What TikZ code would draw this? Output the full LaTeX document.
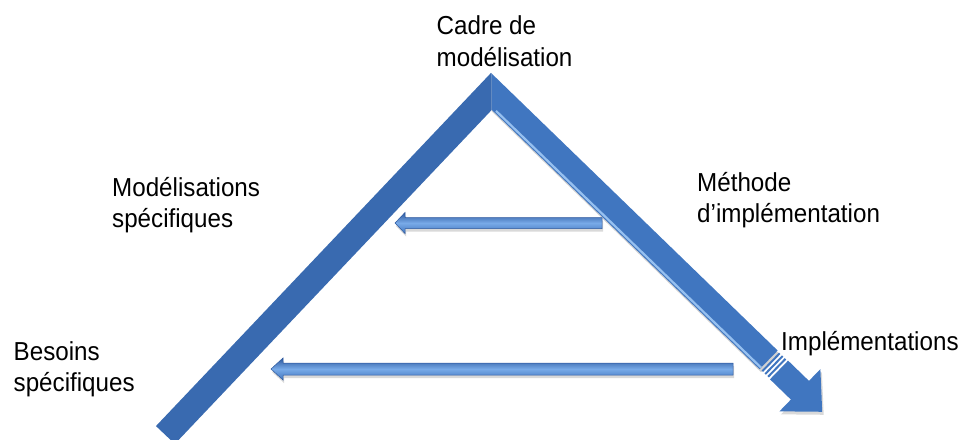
\documentclass[tikz,border=0pt]{standalone}
\usepackage{fontspec}
\newfontfamily\lab{Liberation Sans}[FakeStretch=0.93]
\usetikzlibrary{calc}
\definecolor{legL}{RGB}{57,106,176}
\definecolor{legR}{RGB}{64,118,192}
\definecolor{legHi}{RGB}{150,192,240}
\definecolor{arrDark}{RGB}{44,88,158}
\definecolor{arrLight}{RGB}{120,170,232}
\definecolor{arrMid}{RGB}{66,118,190}
\tikzset{
  lbl/.style={anchor=base west, inner sep=0pt, font=\lab\fontsize{26}{31.7}\selectfont, align=left},
  legleft/.style={draw=legL, line width=26pt, line cap=butt},
  legright/.style={draw=legR, line width=26pt, line cap=butt},
  stripe/.style={draw=legR, line width=25pt, line cap=butt},
  shadowline/.style={draw=black, opacity=0.18, line width=26pt, line cap=butt},
  flatarrow/.style={top color=arrDark, bottom color=arrMid, middle color=arrLight, draw=arrDark, line width=0.5pt},
  arrshadow/.style={fill=black, opacity=0.15}
}
\begin{document}
\begin{tikzpicture}[x=1pt,y=-1pt]
\useasboundingbox (0,0) rectangle (963,439);

% ---- key points of the chevron
\coordinate (LA) at (500.4,81.9);   % left leg centre (beyond apex)
\coordinate (LB) at (165.4,435);    % left leg lower end centre
\coordinate (R0) at (482,82.3);     % right leg centre (beyond apex)
\coordinate (R1) at ($(R0)+399*(0.7183,0.6957)$);     % cut of the shaft
\coordinate (S1a) at ($(R0)+401.4*(0.7183,0.6957)$);
\coordinate (S1b) at ($(R0)+403.4*(0.7183,0.6957)$);
\coordinate (S2a) at ($(R0)+405.4*(0.7183,0.6957)$);
\coordinate (S2b) at ($(R0)+407.4*(0.7183,0.6957)$);
\coordinate (S3a) at ($(R0)+409.4*(0.7183,0.6957)$);
\coordinate (S3b) at ($(R0)+411.4*(0.7183,0.6957)$);
\coordinate (R2) at ($(R0)+413.5*(0.7183,0.6957)$);   % shaft resumes
\coordinate (H)  at ($(R0)+442.6*(0.7183,0.6957)$);   % head base centre
\coordinate (HE) at ($(R0)+444*(0.7183,0.6957)$);
\coordinate (RT) at ($(R0)+473.6*(0.7183,0.6957)$);   % tip
\coordinate (HA) at ($(H)+29.4*(-0.6957,0.7183)$);
\coordinate (HB) at ($(H)-29.4*(-0.6957,0.7183)$);
\coordinate (HiA) at ($(R0)+30*(0.7183,0.6957)+10.8*(-0.6957,0.7183)$);
\coordinate (HiB) at ($(R1)+10.8*(-0.6957,0.7183)$);

% ---- right leg (with shadow)
\begin{scope}
  \clip (491.5,0) rectangle (963,439);
  \draw[shadowline] ($(R0)+(1.5,3)$) -- ($(R1)+(1.5,3)$);
  \fill[arrshadow] ($(HA)+(1.5,3)$) -- ($(RT)+(1.5,3)$) -- ($(HB)+(1.5,3)$) -- cycle;
  \draw[legright] (R0) -- (R1);
  \draw[stripe] (S1a) -- (S1b);
  \draw[stripe] (S2a) -- (S2b);
  \draw[stripe] (S3a) -- (S3b);
  \draw[legright] (R2) -- (HE);
  \fill[legR] (HA) -- (RT) -- (HB) -- cycle;
  \draw[legHi, line width=2.2pt] (HiA) -- (HiB);
\end{scope}

% ---- left leg
\begin{scope}
  \clip (0,0) rectangle (491.5,439);
  \draw[legleft] (LA) -- (LB);
\end{scope}

% ---- horizontal arrows
\coordinate (UT) at (395,223);
\coordinate (UE) at (602,223);
\fill[arrshadow] ($(UT)+(1,3)$) -- (406,215.5) -- (406,220.5) -- (603,220.5) -- (603,231.5) -- (406,231.5) -- (406,236.5) -- cycle;
\shade[flatarrow] (UT) -- (405,212.5) -- (405,217.5) -- (UE |- 0,217.5) -- (UE |- 0,228.5) -- (405,228.5) -- (405,233.5) -- cycle;

\coordinate (LT) at (271,369);
\coordinate (LE) at (733,369);
\fill[arrshadow] ($(LT)+(1,3)$) -- (284,361) -- (284,366) -- (734,366) -- (734,378) -- (284,378) -- (284,383) -- cycle;
\shade[flatarrow] (LT) -- (283,358) -- (283,363) -- (LE |- 0,363) -- (LE |- 0,375) -- (283,375) -- (283,380) -- cycle;

% ---- labels (anchored at the baseline of their last line)
\node[lbl] (cadre) at (436.5,66) {Cadre de\\mod\'elisation};
\node[lbl] (modspec) at (112,227.7) {Mod\'elisations\\sp\'ecifiques};
\node[lbl] (methode) at (697,222.7) {M\'ethode\\d’impl\'ementation};
\node[lbl] (impl) at (781,350) {Impl\'ementations};
\node[lbl] (besoins) at (13.5,391.7) {Besoins\\sp\'ecifiques};
\end{tikzpicture}
\end{document}
